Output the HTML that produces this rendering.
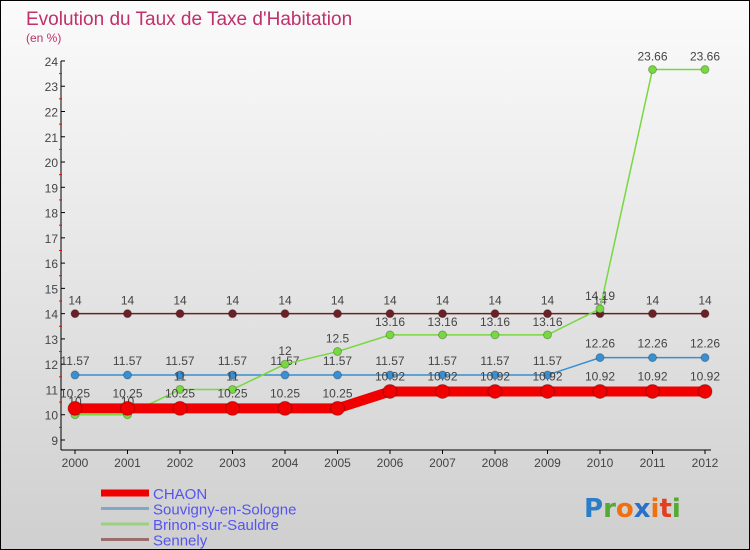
<!DOCTYPE html>
<html><head><meta charset="utf-8"><style>
body{margin:0}
#c{position:relative;width:748px;height:548px;border:1px solid #000;background:linear-gradient(#fbfbfb,#cfcfcf);overflow:hidden;font-family:"Liberation Sans",sans-serif}
</style></head><body>
<div id="c">
<svg id="s" width="748" height="548" style="position:absolute;left:0;top:0"></svg>
</div>
<script>
const years=[2000,2001,2002,2003,2004,2005,2006,2007,2008,2009,2010,2011,2012];
const chaon=[10.25,10.25,10.25,10.25,10.25,10.25,10.92,10.92,10.92,10.92,10.92,10.92,10.92];
const souvigny=[11.57,11.57,11.57,11.57,11.57,11.57,11.57,11.57,11.57,11.57,12.26,12.26,12.26];
const brinon=[10,10,11,11,12,12.5,13.16,13.16,13.16,13.16,14.19,23.66,23.66];
const sennely=[14,14,14,14,14,14,14,14,14,14,14,14,14];
const yTicks=[9,10,11,12,13,14,15,16,17,18,19,20,21,22,23,24];
const NS="http://www.w3.org/2000/svg",s=document.getElementById('s');
const X=i=>74+i*52.5, Y=v=>439-(v-9)*25.27;
function el(t,a,p){const e=document.createElementNS(NS,t);for(const k in a)e.setAttribute(k,a[k]);(p||s).appendChild(e);return e;}
function txt(x,y,str,a){const e=el('text',Object.assign({x:x,y:y,'font-size':12,fill:'#444'},a));e.textContent=str;return e;}
let t=txt(25,24,"Evolution du Taux de Taxe d'Habitation",{'font-size':19,fill:'#c0306a'});

t=txt(25,41,"(en %)",{'font-size':12,fill:'#c0306a'});

let a=el('line',{x1:60,y1:60,x2:60,y2:449,stroke:'#000','stroke-width':1});

a=el('line',{x1:60,y1:449,x2:710,y2:449,stroke:'#000','stroke-width':1});

yTicks.forEach(v=>{el('line',{x1:60,y1:Y(v),x2:64,y2:Y(v),stroke:'#000'});
 if(v<24)el('line',{x1:58,y1:Y(v+0.5),x2:61,y2:Y(v+0.5),stroke:'#f00'});
 const l=txt(57,Y(v)+5,String(v),{'text-anchor':'end','font-size':12});
 });
years.forEach((y,i)=>{el('line',{x1:X(i),y1:449,x2:X(i),y2:453,stroke:'#000'});
 const l=txt(X(i),466,String(y),{'text-anchor':'middle','font-size':12});
 });
function series(vals,color,w,r,name,dy){
 const g=el('g',{});
 el('polyline',{points:vals.map((v,i)=>X(i)+','+Y(v)).join(' '),fill:'none',stroke:color,'stroke-width':w},g);
 vals.forEach((v,i)=>{const c=el('circle',{cx:X(i),cy:Y(v),r:r,fill:color,stroke:'rgba(0,0,0,0.25)'},g);
  
  txt(X(i),Y(v)-dy,String(v),{'text-anchor':'middle','font-size':12,fill:'#444'},g);});
}
series(sennely,'#6b2028',1.5,4,'sennely',9);
series(souvigny,'#3a8fd0',1.5,4,'souvigny',10);
series(brinon,'#77d840',1.5,4,'brinon',9);
series(chaon,'#f00000',10,7,'chaon',11);
const leg=[['CHAON','#f00000',7],['Souvigny-en-Sologne','#7fa8c8',3],['Brinon-sur-Sauldre','#9ad080',3],['Sennely','#9a6c6c',3]];
leg.forEach((d,i)=>{const g=el('g',{});
 const y=492+i*15.5;el('line',{x1:100,y1:y,x2:148,y2:y,stroke:d[1],'stroke-width':d[2]},g);
 txt(152,y+6,d[0],{'font-size':15,fill:'#5555ee'},g);});
const lg=el('text',{x:583,y:516,'font-size':26,'font-weight':'bold','font-family':'"DejaVu Sans",sans-serif'});

[['P','#2a7ec8'],['r','#55aa33'],['o','#f07010'],['x','#2a70c8'],['i','#f07010'],['t','#e04020'],['i','#55aa33']].forEach(p=>{const ts=el('tspan',{fill:p[1]},lg);ts.textContent=p[0];});
</script>
</body></html>
